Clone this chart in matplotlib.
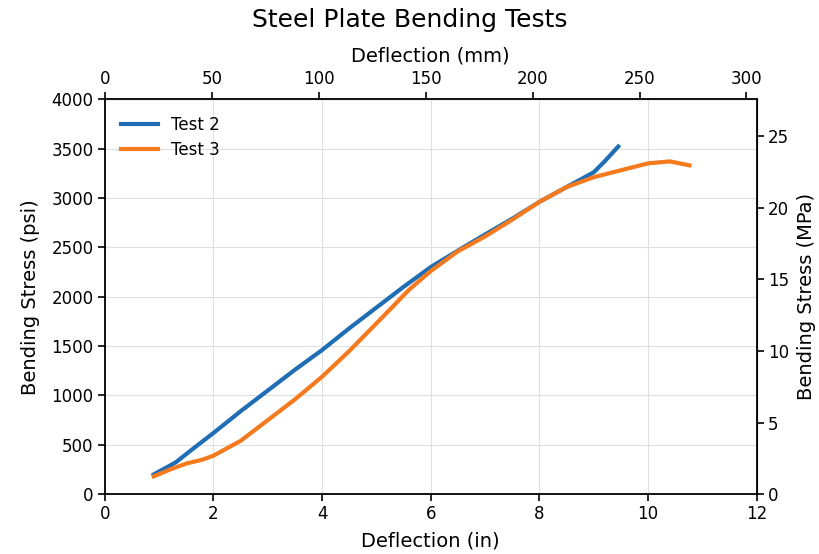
import numpy as np
import matplotlib
matplotlib.use("Agg")
import matplotlib.pyplot as plt

# values (inches, psi)
test2_x = [0.9, 1.3, 1.6, 2.0, 2.5, 3.0, 3.5, 4.0, 4.5, 5.0, 5.5, 6.0, 6.6, 7.0, 7.5, 8.0, 8.5, 9.0, 9.2, 9.45]
test2_y = [200, 320, 450, 620, 840, 1050, 1260, 1460, 1680, 1890, 2100, 2300, 2500, 2630, 2790, 2960, 3110, 3260, 3370, 3520]

test3_x = [0.9, 1.2, 1.5, 1.8, 2.0, 2.5, 3.0, 3.5, 4.0, 4.5, 5.0, 5.3, 5.6, 6.0, 6.5, 7.0,
           7.5, 8.0, 8.5, 9.0, 9.5, 10.0, 10.4, 10.76]
test3_y = [180, 250, 310, 350, 390, 540, 750, 960, 1190, 1450, 1730, 1900, 2070, 2260, 2460, 2610,
           2780, 2960, 3110, 3210, 3280, 3350, 3370, 3330]

IN_TO_MM = 25.4
PSI_TO_MPA = 0.00689476

plt.rcParams["font.family"] = ["DejaVu Sans"]
tick_fs, lab_fs, title_fs, leg_fs = 12, 14, 18, 12

fig = plt.figure(figsize=(8.19, 5.54), dpi=100)
ax = fig.add_axes([0.128, 0.108, 0.796, 0.713])

ax.plot(test2_x, test2_y, color="#1f6db5", lw=3, label="Test 2")
ax.plot(test3_x, test3_y, color="#f57a1e", lw=3, label="Test 3")

ax.set_xlim(0, 12)
ax.set_ylim(0, 4000)
ax.set_xticks(np.arange(0, 13, 2))
ax.set_yticks(np.arange(0, 4001, 500))
ax.grid(True, color="#e0e0e0", lw=0.8)
for s in ax.spines.values():
    s.set_linewidth(1.3)
ax.tick_params(labelsize=tick_fs, width=1.2, length=5, pad=3)
ax.set_xlabel("Deflection (in)", fontsize=lab_fs, labelpad=6)
ax.set_ylabel("Bending Stress (psi)", fontsize=lab_fs, labelpad=8)
ax.legend(loc="upper left", frameon=False, fontsize=leg_fs, handlelength=2.2,
          borderaxespad=0.6, labelspacing=0.45)

top = ax.secondary_xaxis("top", functions=(lambda x: x * IN_TO_MM, lambda x: x / IN_TO_MM))
top.set_xticks(np.arange(0, 301, 50))
top.tick_params(labelsize=tick_fs, width=1.2, length=5, pad=3)
top.set_xlabel("Deflection (mm)", fontsize=lab_fs, labelpad=6)

right = ax.secondary_yaxis("right", functions=(lambda y: y * PSI_TO_MPA, lambda y: y / PSI_TO_MPA))
right.set_yticks(np.arange(0, 26, 5))
right.tick_params(labelsize=tick_fs, width=1.2, length=5, pad=3)
right.set_ylabel("Bending Stress (MPa)", fontsize=lab_fs, labelpad=6)

fig.suptitle("Steel Plate Bending Tests", fontsize=title_fs, y=0.985)

fig.savefig("out.png", dpi=100)
